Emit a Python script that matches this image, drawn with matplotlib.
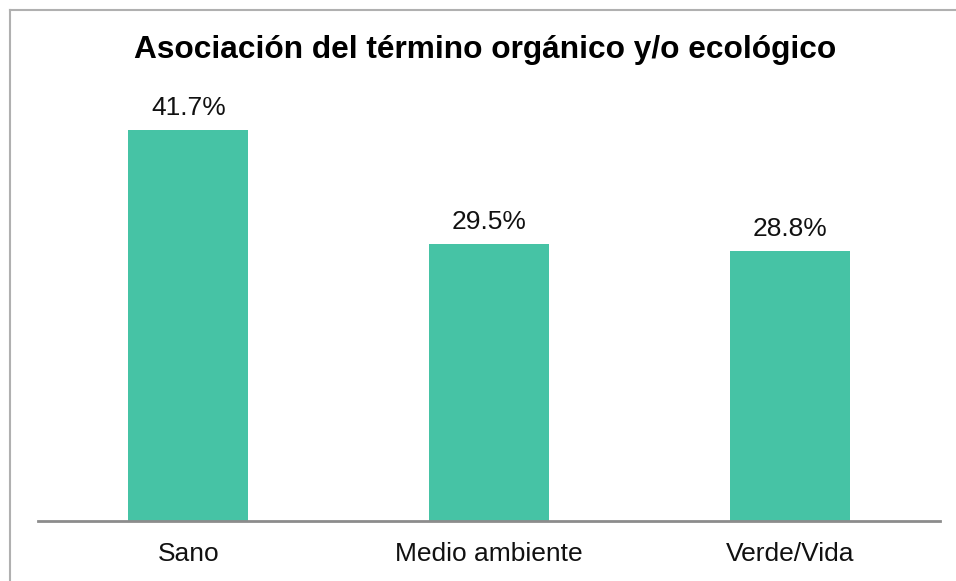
import matplotlib
matplotlib.use("Agg")
import matplotlib.pyplot as plt
from matplotlib.lines import Line2D

# data
categories = ["Sano", "Medio ambiente", "Verde/Vida"]
values = [41.7, 29.5, 28.8]
title = "Asociación del término orgánico y/o ecológico"

plt.rcParams["font.family"] = ["Liberation Sans", "DejaVu Sans"]

W, H = 956, 581
fig = plt.figure(figsize=(W / 100, H / 100), dpi=100)
# axes: x 38..940, baseline y=521, top at y=99 (ylim 45)
ax = fig.add_axes([38 / W, 1 - 521 / H, (940 - 38) / W, (521 - 99) / H])

x = range(len(categories))
ax.bar(x, values, width=0.4, color="#46C3A5")
ax.set_xlim(-0.5, len(categories) - 0.5)
ax.set_ylim(0, 45)

for xi, v in zip(x, values):
    ax.text(xi, v + 1.6, f"{v:.1f}%", ha="center", va="baseline", fontsize=19, color="#111111")

ax.set_xticks(list(x))
ax.set_xticklabels(categories, fontsize=19, color="#111111")
ax.tick_params(axis="x", length=0, pad=15)
ax.set_yticks([])
for s in ["top", "right", "left"]:
    ax.spines[s].set_visible(False)
ax.spines["bottom"].set_color("#8c8c8c")
ax.spines["bottom"].set_linewidth(2)

fig.text(485 / W, 1 - 50 / H, title, ha="center", va="center", fontsize=22.8, fontweight="bold")

# light frame on left and top edges
fig.add_artist(Line2D([9.5 / W, 9.5 / W], [0, 1 - 9.5 / H], color="#b0b0b0", lw=1.5))
fig.add_artist(Line2D([9.5 / W, 1], [1 - 9.5 / H, 1 - 9.5 / H], color="#b0b0b0", lw=1.5))

fig.savefig("out.png", dpi=100)
